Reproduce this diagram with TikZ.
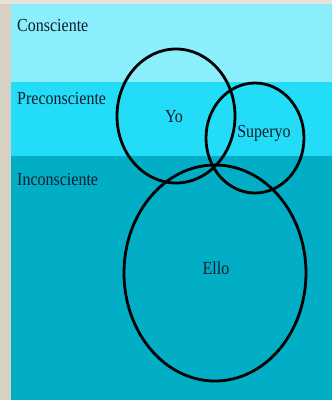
\documentclass[tikz,border=0pt]{standalone}
\usepackage{fontspec}
\setmainfont{Liberation Serif}
\usetikzlibrary{positioning}

\definecolor{fondo}{HTML}{E6E3DA}
\definecolor{borde}{HTML}{D6D1C3}
\definecolor{consciente}{HTML}{8AEEFC}
\definecolor{preconsciente}{HTML}{23DDF8}
\definecolor{inconsciente}{HTML}{02AEC6}
\definecolor{texto}{HTML}{0F1E2B}

\begin{document}
\begin{tikzpicture}[
		x=1pt, y=1pt,
		etiqueta/.style = {font=\fontsize{16}{18}\selectfont, text=texto, inner sep=0pt, yscale=1.15, transform shape},
		instancia/.style = {draw=black, line width=2.8pt}
		]
		\useasboundingbox (0,0) rectangle (332,-400);
		% Fondo
		\fill[fondo] (0,0) rectangle (332,-400);
		\fill[borde] (0,-4) rectangle (11,-400);
		
		% Niveles
		\fill[consciente] (11,-4) rectangle (332,-82);
		\fill[preconsciente] (11,-82) rectangle (332,-156);
		\fill[inconsciente] (11,-156) rectangle (332,-400);
		\node[etiqueta, anchor=west] (cons) at (17,-25) {Consciente};
		\node[etiqueta, anchor=west] (precons) at (17,-98) {Preconsciente};
		\node[etiqueta, anchor=west] (incons) at (17,-179) {Inconsciente};
		
		% Instancias
		\draw[instancia] (176,-116) ellipse [x radius=59, y radius=67];
		\draw[instancia] (255,-138) ellipse [x radius=49, y radius=55];
		\draw[instancia] (215,-273) ellipse [x radius=91, y radius=108];
		\node[etiqueta] (yo) at (174,-117) {Yo};
		\node[etiqueta] (superyo) at (264,-133) {Superyo};
		\node[etiqueta] (ello) at (216,-268) {Ello};
	\end{tikzpicture}
\end{document}
